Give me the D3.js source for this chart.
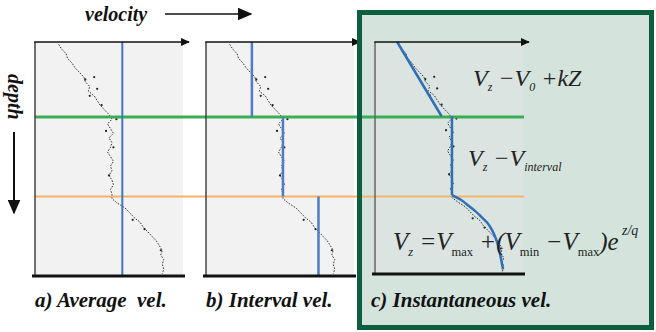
<!DOCTYPE html>
<html>
<head>
<meta charset="utf-8">
<script src="https://cdn.jsdelivr.net/npm/d3@7"></script>
<style>
  html, body { margin: 0; padding: 0; background: #fff; }
  svg { display: block; }
</style>
</head>
<body>
<div id="chart"></div>
<script>
// well log (sonic) trace: depth in % of section, velocity in % of axis
const logDepth = [1, 3, 5, 7, 9, 11, 13, 15, 17, 19, 21, 23, 25, 27, 29, 31, 33, 35, 37, 39, 41, 43, 45, 47, 49, 51, 53, 55, 57, 59, 61, 63, 65, 67, 69, 71, 73, 75, 77, 79, 81, 83, 85, 87, 89, 91, 93, 95, 97, 99]
const logVel = [16, 18, 21, 22, 25, 27, 30, 33, 34, 37, 36, 40, 42, 44, 47, 50, 52, 49, 51, 53, 50, 52, 51, 49, 51, 53, 51, 52, 50, 52, 53, 51, 52, 52, 56, 61, 64, 67, 71, 73, 76, 79, 82, 84, 86, 85, 87, 86, 87, 86]
// scattered log samples off the main trace [velocity, depth]
const logBlobs = [[34, 16], [40, 15], [42, 20], [37, 23], [45, 27], [55, 33], [48, 38], [53, 45], [50, 57], [66, 76], [74, 80], [85, 89]]

// horizon depths
const horizonDepths = [32, 66]
const horizonColors = ['#3aad55', '#f3b46a']

// a) average velocity
const averageVel = 59
// b) interval velocities between horizons
const intervalTops = [0, 32, 66]
const intervalBases = [32, 66, 100]
const intervalVel = [31, 52, 76]
// c) instantaneous velocity model
const linearDepth = [0, 32]
const linearVel = [15, 45]
const constDepth = [32, 66]
const constVel = [52, 52]
const expDepth = [66, 68, 70.5, 73, 75.5, 78, 81, 84.5, 88.5, 93, 98]
const expVel = [52, 58, 63, 68, 72, 76, 79, 81.5, 83.5, 85, 86.5]

const panelLabels = ['a) Average  vel.', 'b) Interval vel.', 'c) Instantaneous vel.']

const width = 656
const height = 332
const serif = '"Liberation Serif", "Times New Roman", serif'

const panels = [
    { left: 35, bottom: 276, bg: '#f2f2f2', leftAxis: '#444' },
    { left: 206, bottom: 276, bg: '#f2f2f2', leftAxis: '#444' },
    { left: 375, bottom: 274, bg: '#dbe4e1', leftAxis: '#666' }
]
const plotTop = 42
const plotWidth = 148

const svg = d3.select('#chart').append('svg')
    .attr('width', width)
    .attr('height', height)

const defs = svg.append('defs')
function marker (id, w, h) {
    defs.append('marker')
        .attr('id', id)
        .attr('viewBox', '0 0 10 10')
        .attr('refX', 9)
        .attr('refY', 5)
        .attr('markerWidth', w)
        .attr('markerHeight', h)
        .attr('markerUnits', 'userSpaceOnUse')
        .attr('orient', 'auto')
        .attr('preserveAspectRatio', 'none')
        .append('path')
        .attr('d', 'M0,0 L10,5 L0,10 z')
        .attr('fill', '#111')
}
marker('arrow', 9, 8)
marker('bigArrow', 15, 13)

function boldItalic (sel, size) {
    return sel.attr('font-family', serif)
        .attr('font-style', 'italic')
        .attr('font-weight', 'bold')
        .attr('font-size', size)
        .attr('fill', '#111')
}

// panel c frame (fill first, border drawn last)
svg.append('rect')
    .attr('x', 359.5).attr('y', 12.5)
    .attr('width', 292).attr('height', 315)
    .attr('fill', '#d4e4dd')

const lineGen = d3.line().x(d => d[0]).y(d => d[1])

panels.forEach((p, i) => {
    const x = d3.scaleLinear().domain([0, 100]).range([p.left, p.left + plotWidth])
    const y = d3.scaleLinear().domain([0, 100]).range([plotTop, p.bottom])
    p.x = x
    p.y = y
    const g = svg.append('g').attr('class', 'panel-' + i)

    g.append('rect')
        .attr('x', x(0)).attr('y', y(0))
        .attr('width', x(100) - x(0)).attr('height', y(100) - y(0))
        .attr('fill', p.bg)

    // log trace
    const trace = logDepth.map((d, k) => [x(logVel[k]), y(d)])
    g.append('path')
        .attr('d', lineGen.curve(d3.curveLinear)(trace))
        .attr('fill', 'none')
        .attr('stroke', '#333')
        .attr('stroke-width', 1)
        .attr('stroke-dasharray', '1.6,1.4')
    g.selectAll('circle.blob')
        .data(logBlobs)
        .enter()
        .append('circle')
        .attr('class', 'blob')
        .attr('cx', d => x(d[0]))
        .attr('cy', d => y(d[1]))
        .attr('r', 1.1)
        .attr('fill', '#222')
})

// horizons run across all three panels
horizonDepths.forEach((d, k) => {
    const y = panels[0].y
    svg.append('line')
        .attr('x1', panels[0].x(0)).attr('x2', panels[2].x(100) + 1)
        .attr('y1', y(d)).attr('y2', y(d))
        .attr('stroke', horizonColors[k])
        .attr('stroke-width', k === 0 ? 3 : 2)
})

// velocity models
const blue = '#3d78c4'
{
    const p = panels[0]
    svg.append('line')
        .attr('x1', p.x(averageVel)).attr('x2', p.x(averageVel))
        .attr('y1', p.y(0)).attr('y2', p.y(100))
        .attr('stroke', blue).attr('stroke-width', 2)
}
{
    const p = panels[1]
    svg.selectAll('line.interval')
        .data(intervalVel)
        .enter()
        .append('line')
        .attr('class', 'interval')
        .attr('x1', d => p.x(d)).attr('x2', d => p.x(d))
        .attr('y1', (d, k) => p.y(intervalTops[k]))
        .attr('y2', (d, k) => p.y(intervalBases[k]))
        .attr('stroke', '#4f7cc6').attr('stroke-width', 2.5)
}
{
    const p = panels[2]
    const segs = [
        linearDepth.map((d, k) => [p.x(linearVel[k]), p.y(d)]),
        constDepth.map((d, k) => [p.x(constVel[k]), p.y(d)]),
        expDepth.map((d, k) => [p.x(expVel[k]), p.y(d)])
    ]
    svg.selectAll('path.model')
        .data(segs)
        .enter()
        .append('path')
        .attr('class', 'model')
        .attr('d', d => lineGen.curve(d3.curveMonotoneY)(d))
        .attr('fill', 'none')
        .attr('stroke', '#2f6fb8')
        .attr('stroke-width', 2.5)
}

// axes
panels.forEach(p => {
    svg.append('line')
        .attr('x1', p.x(0)).attr('x2', p.x(0))
        .attr('y1', p.y(0)).attr('y2', p.y(100))
        .attr('stroke', p.leftAxis).attr('stroke-width', 1.5)
    svg.append('line')
        .attr('x1', p.x(0) - 0.75).attr('x2', p.x(100) + 6)
        .attr('y1', p.y(0)).attr('y2', p.y(0))
        .attr('stroke', '#111').attr('stroke-width', 1.5)
        .attr('marker-end', 'url(#arrow)')
    svg.append('line')
        .attr('x1', p.x(0) - 3).attr('x2', p.x(100) + 2)
        .attr('y1', p.y(100)).attr('y2', p.y(100))
        .attr('stroke', '#111').attr('stroke-width', 3)
})

// panel titles
svg.selectAll('text.label')
    .data(panelLabels)
    .enter()
    .append('text')
    .attr('class', 'label')
    .attr('x', (d, i) => panels[i].x(0) - (i === 2 ? 4 : 0))
    .attr('y', 307)
    .call(boldItalic, 21)
    .style('white-space', 'pre')
    .text(d => d)

// velocity / depth arrows
svg.append('text')
    .attr('x', 85).attr('y', 21)
    .call(boldItalic, 20)
    .text('velocity')
svg.append('line')
    .attr('x1', 165).attr('x2', 251)
    .attr('y1', 14).attr('y2', 14)
    .attr('stroke', '#111').attr('stroke-width', 1.5)
    .attr('marker-end', 'url(#bigArrow)')

svg.append('text')
    .attr('transform', 'translate(8,74) rotate(90)')
    .call(boldItalic, 20)
    .text('depth')
svg.append('line')
    .attr('x1', 14).attr('x2', 14)
    .attr('y1', 132).attr('y2', 213)
    .attr('stroke', '#111').attr('stroke-width', 2)
    .attr('marker-end', 'url(#bigArrow)')

// equations
function eq (x, y, size, parts) {
    const t = svg.append('text')
        .attr('x', x).attr('y', y)
        .attr('font-family', serif)
        .attr('font-style', 'italic')
        .attr('font-size', size)
        .attr('fill', '#222')
        .style('white-space', 'pre')
    parts.forEach(pt => {
        const s = t.append('tspan').text(pt.t)
        if (pt.sub) s.attr('font-size', size * 0.5).attr('dy', size * 0.22)
        if (pt.sup) s.attr('font-size', size * 0.55).attr('dy', -size * 0.6)
        if (pt.back) s.attr('dy', pt.back)
        if (pt.upright) s.attr('font-style', 'normal')
    })
}
eq(473, 86, 24, [
    { t: 'V' }, { t: 'z', sub: true }, { t: ' −V', back: -24 * 0.22 }, { t: '0', sub: true },
    { t: ' +kZ', back: -24 * 0.22 }
])
eq(468, 166, 24, [
    { t: 'V' }, { t: 'z', sub: true }, { t: ' −V', back: -24 * 0.22 }, { t: 'interval', sub: true }
])
eq(393, 250, 25, [
    { t: 'V' }, { t: 'z', sub: true }, { t: ' =V', back: -25 * 0.22 }, { t: 'max', sub: true, upright: true },
    { t: ' +(V', back: -25 * 0.22 }, { t: 'min', sub: true, upright: true },
    { t: ' −V', back: -25 * 0.22 }, { t: 'max', sub: true, upright: true },
    { t: ')e', back: -25 * 0.22 }, { t: ' z/q', sup: true }
])

// frame border of panel c on top
svg.append('rect')
    .attr('x', 359.5).attr('y', 12.5)
    .attr('width', 292).attr('height', 315)
    .attr('fill', 'none')
    .attr('stroke', '#0b5e3e')
    .attr('stroke-width', 5)
</script>
</body>
</html>
